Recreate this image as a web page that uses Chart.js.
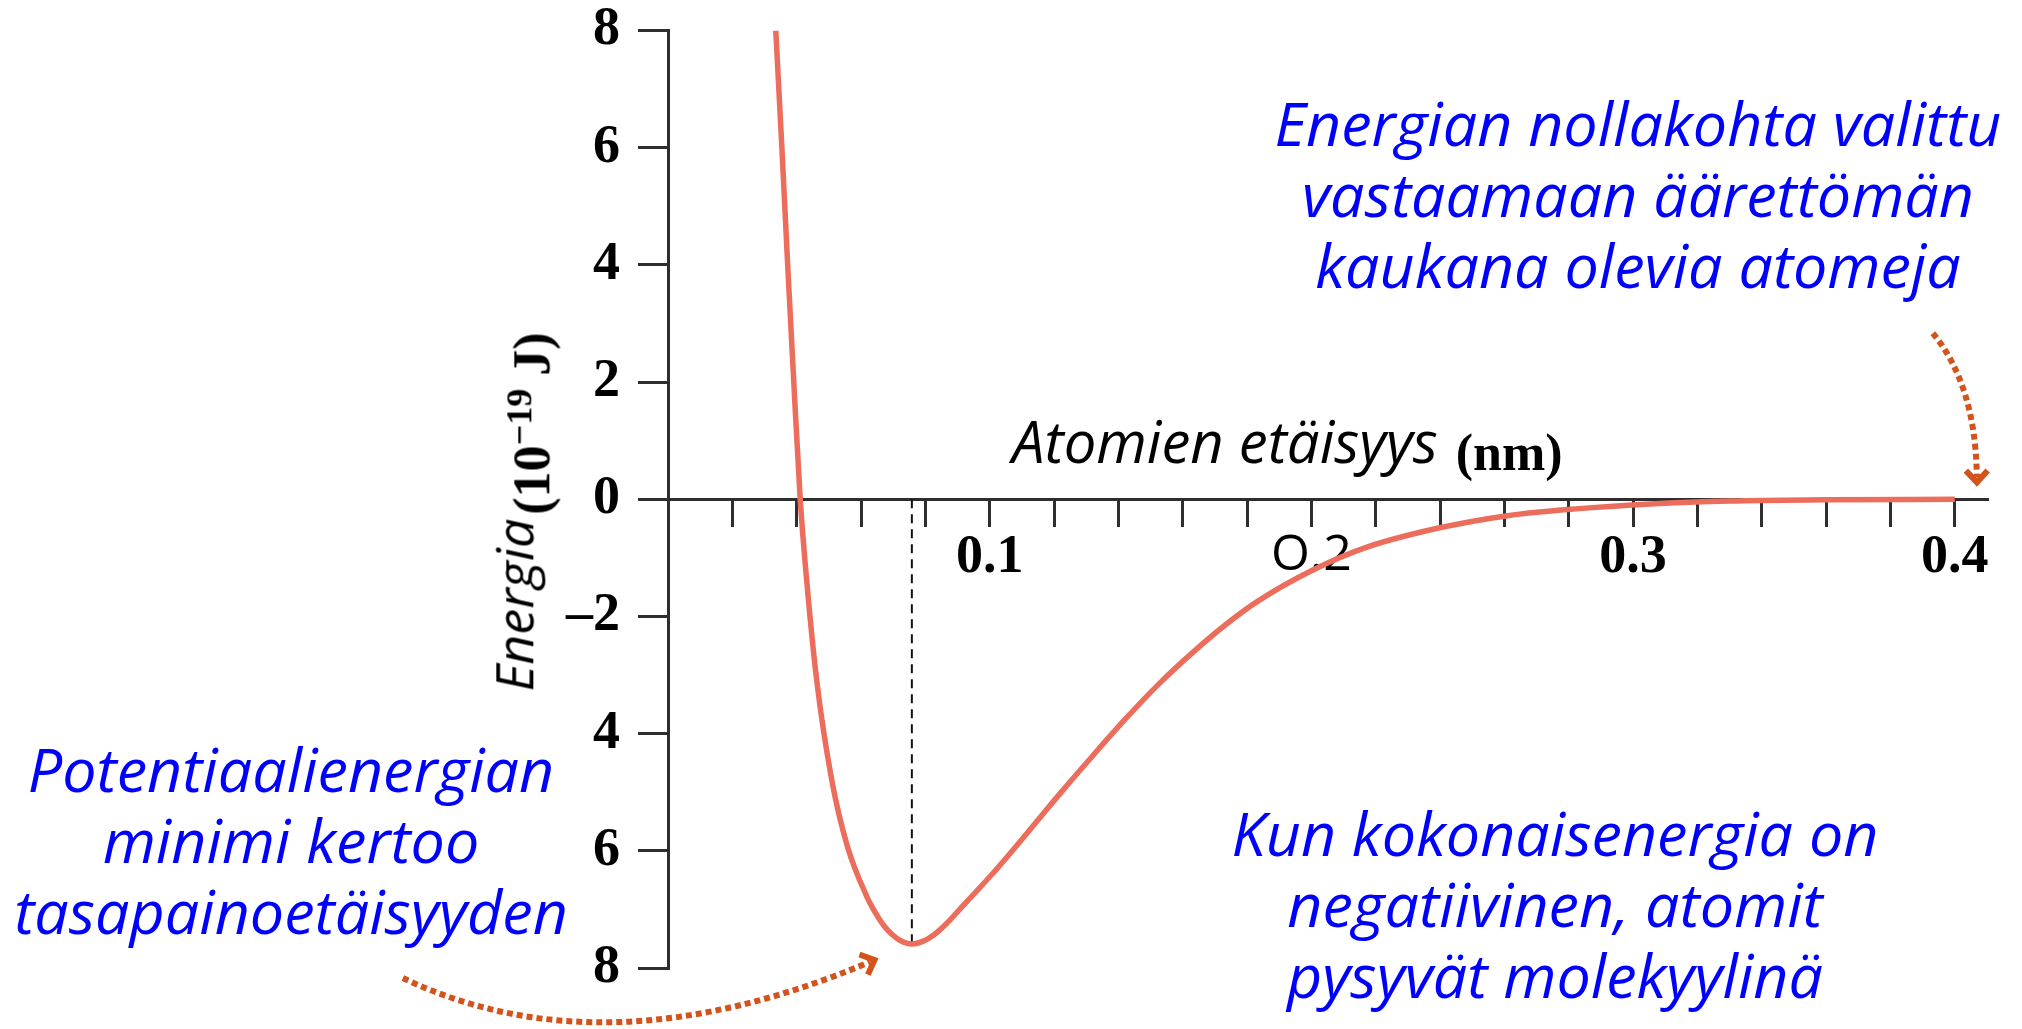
<!DOCTYPE html>
<html>
<head>
<meta charset="utf-8">
<script src="https://cdn.jsdelivr.net/npm/chart.js@4/dist/chart.umd.min.js"></script>
<style>
html,body{margin:0;padding:0;background:#fff;overflow:hidden}
#wrap{position:relative;width:2022px;height:1029px;background:#fff}
canvas{position:absolute;left:0;top:0}
.note{position:absolute;color:#0000ff;font-family:'Open Sans',sans-serif;font-style:italic;font-size:61px;line-height:71px;text-align:center;white-space:nowrap;transform:translateX(-50%)}
.xlab{position:absolute;white-space:nowrap;line-height:1}
.hand{font-family:'Open Sans',sans-serif;font-style:italic;font-weight:400}
.serifb{font-family:'Liberation Serif',serif;font-weight:bold}
#ytitle{position:absolute;white-space:nowrap;line-height:1;transform:translate(-50%,-50%) rotate(-90deg)}
</style>
</head>
<body>
<div id="wrap">
<canvas id="c" width="2022" height="1029"></canvas>
<div class="note" style="left:1638px;top:87px">Energian nollakohta valittu<br>vastaamaan äärettömän<br>kaukana olevia atomeja</div>
<div class="note" style="left:291px;top:733px">Potentiaalienergian<br>minimi kertoo<br>tasapainoetäisyyden</div>
<div class="note" style="left:1555px;top:797px">Kun kokonaisenergia on<br>negatiivinen, atomit<br>pysyvät molekyylinä</div>
<div class="xlab" style="left:1012px;top:412px"><span class="hand" style="font-size:58px;color:#000">Atomien etäisyys</span><span class="serifb" style="font-size:52px;margin-left:18px;position:relative;top:7px;color:#000">(nm)</span></div>
<div id="ytitle" style="left:530px;top:512px"><span class="hand" style="font-size:52px;position:relative;top:-16px;color:#000">Energia</span> <span class="serifb" style="font-size:52px;color:#000">(10<sup style="font-size:36px">−19</sup> J)</span></div>
</div>
<script>
// ---- data ----
const distanceNm = [0.0335, 0.0354, 0.0372, 0.0391, 0.0411, 0.0431, 0.0462, 0.0509, 0.0558, 0.0618, 0.0645, 0.0670, 0.0695, 0.0722, 0.0758, 0.0790, 0.0825, 0.0866, 0.0908, 0.1012, 0.1116, 0.1219, 0.1323, 0.1427, 0.1530, 0.1634, 0.1738, 0.1836, 0.2000, 0.2166, 0.2388, 0.2610, 0.2832, 0.3054, 0.3300, 0.3600, 0.4000];
const energy     = [8.0,    6.0,    4.0,    2.0,    0.0,   -1.38,  -3.08,  -4.79,  -5.93,  -6.78,  -7.06,  -7.27,  -7.42,  -7.53,  -7.59,  -7.55,  -7.44,  -7.24,  -6.99,  -6.37,  -5.70,  -5.02,  -4.36,  -3.72,  -3.13,  -2.60,  -2.12,  -1.73,  -1.22,  -0.83,  -0.50,  -0.28,  -0.16,  -0.08,  -0.03,  -0.01,   0.0];
const xTickValues = [0, 0.02, 0.04, 0.06, 0.08, 0.10, 0.12, 0.14, 0.16, 0.18, 0.20, 0.22, 0.24, 0.26, 0.28, 0.30, 0.32, 0.34, 0.36, 0.38, 0.40];
const xLabelValues = [0.1, 0.2, 0.3, 0.4];
const xLabelTexts  = ['0.1', 'O.2', '0.3', '0.4'];
const yTickValues = [-8, -6, -4, -2, 0, 2, 4, 6, 8];
const yTickLabels = ['8', '6', '4', '\u20132', '0', '2', '4', '6', '8'];

// equilibrium point = minimum of the curve
let minIdx = 0;
energy.forEach((e, i) => { if (e < energy[minIdx]) minIdx = i; });
const eqX = distanceNm[minIdx], eqY = energy[minIdx];

const curve = distanceNm.map((x, i) => ({x, y: energy[i]}));
const dashLine = [{x: eqX, y: 0}, {x: eqX, y: eqY}];

const AXIS_COLOR = '#2e2e2e';
const ARROW_COLOR = '#d2541c';

function dottedArrow(ctx, p0, p1, p2) {
  ctx.save();
  ctx.strokeStyle = ARROW_COLOR;
  ctx.lineWidth = 6;
  ctx.setLineDash([6, 4]);
  ctx.lineCap = 'butt';
  ctx.beginPath();
  ctx.moveTo(p0.x, p0.y);
  ctx.quadraticCurveTo(p1.x, p1.y, p2.x, p2.y);
  ctx.stroke();
  const ang = Math.atan2(p2.y - p1.y, p2.x - p1.x);
  ctx.setLineDash([]);
  ctx.lineWidth = 6;
  ctx.lineJoin = 'miter';
  const L = 16, a = 0.75;
  const tip = {x: p2.x + 5 * Math.cos(ang), y: p2.y + 5 * Math.sin(ang)};
  ctx.beginPath();
  ctx.moveTo(tip.x - L * Math.cos(ang - a), tip.y - L * Math.sin(ang - a));
  ctx.lineTo(tip.x, tip.y);
  ctx.lineTo(tip.x - L * Math.cos(ang + a), tip.y - L * Math.sin(ang + a));
  ctx.stroke();
  ctx.restore();
}

const arrowPlugin = {
  id: 'arrows',
  afterDraw(chart) {
    const ctx = chart.ctx;
    const xs = chart.scales.x, ys = chart.scales.y;
    // arrow to the minimum
    const mx = xs.getPixelForValue(eqX), my = ys.getPixelForValue(eqY);
    dottedArrow(ctx, {x: mx - 509, y: my + 34}, {x: mx - 308, y: my + 130}, {x: mx - 42, y: my + 18});
    // arrow to the zero level far away
    const zx = xs.getPixelForValue(0.4), zy = ys.getPixelForValue(0);
    dottedArrow(ctx, {x: zx - 22, y: zy - 166}, {x: zx + 21, y: zy - 114}, {x: zx + 22, y: zy - 22});
  }
};

new Chart(document.getElementById('c'), {
  type: 'line',
  data: {
    datasets: [
      {
        data: curve,
        borderColor: '#ec6d5c',
        borderWidth: 5.5,
        pointRadius: 0,
        cubicInterpolationMode: 'monotone',
        fill: false,
        order: 0
      },
      {
        data: dashLine,
        borderColor: '#111',
        borderWidth: 2,
        borderDash: [9, 6],
        pointRadius: 0,
        fill: false,
        order: 1
      }
    ]
  },
  options: {
    responsive: false,
    animation: false,
    devicePixelRatio: 1,
    layout: {padding: {left: 0, right: 35, top: 30.5, bottom: 61}},
    plugins: {legend: {display: false}, tooltip: {enabled: false}, title: {display: false}},
    scales: {
      x: {
        type: 'linear',
        position: {y: 0},
        min: 0,
        max: 0.41,
        afterBuildTicks: (scale) => { scale.ticks = xTickValues.map(v => ({value: v})); },
        afterFit: (scale) => { scale.paddingLeft = 0; scale.paddingRight = 0; },
        grid: {drawOnChartArea: false, drawTicks: true, tickLength: 26, color: AXIS_COLOR, lineWidth: 3},
        border: {display: true, color: AXIS_COLOR, width: 3},
        ticks: {
          autoSkip: false,
          maxRotation: 0,
          padding: 0,
          color: '#000',
          font: (ctx) => {
            const v = ctx.tick ? ctx.tick.value : 0;
            if (Math.abs(v - 0.2) < 1e-9) return {family: "'Open Sans', sans-serif", size: 50, weight: '400'};
            return {family: "'Liberation Serif', serif", size: 54, weight: 'bold'};
          },
          callback: (value) => {
            const i = xLabelValues.findIndex(v => Math.abs(v - value) < 1e-9);
            return i >= 0 ? xLabelTexts[i] : '';
          }
        }
      },
      y: {
        type: 'linear',
        position: 'left',
        min: -8,
        max: 8,
        afterBuildTicks: (scale) => { scale.ticks = yTickValues.map(v => ({value: v})); },
        afterFit: (scale) => { scale.width = 668; scale.paddingTop = 0; scale.paddingBottom = 0; },
        grid: {drawOnChartArea: false, drawTicks: true, tickLength: 30, color: AXIS_COLOR, lineWidth: 3},
        border: {display: true, color: AXIS_COLOR, width: 3},
        ticks: {
          autoSkip: false,
          padding: 18,
          color: '#000',
          font: {family: "'Liberation Serif', serif", size: 54, weight: 'bold'},
          callback: (value, index) => yTickLabels[index]
        }
      }
    }
  },
  plugins: [arrowPlugin]
});
</script>
</body>
</html>
